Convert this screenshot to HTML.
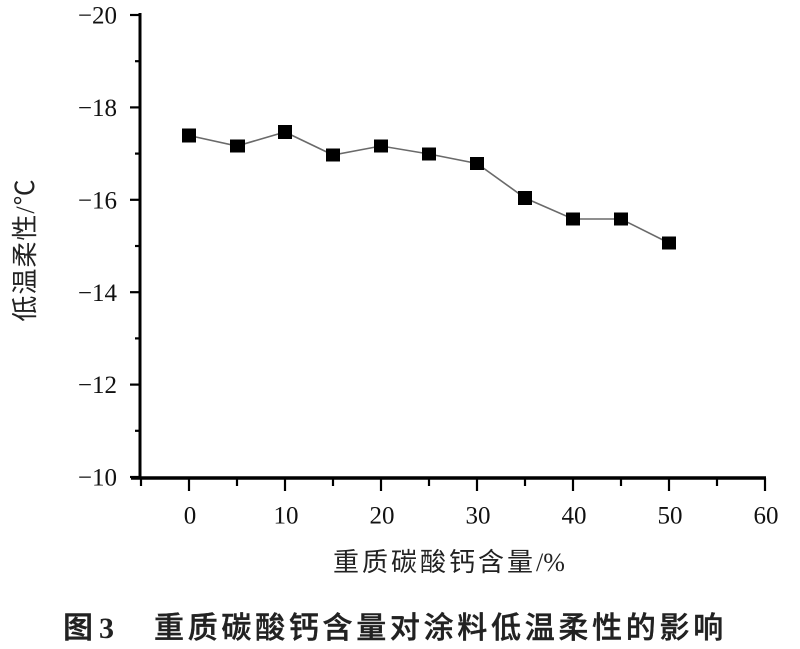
<!DOCTYPE html>
<html>
<head>
<meta charset="utf-8">
<style>
  html,body{margin:0;padding:0;background:#fff;}
  svg{display:block;}
  .tk{font-family:"Liberation Serif","Noto Serif CJK SC",serif;font-size:25px;fill:#111;}
  .cj{font-family:"Liberation Sans","Noto Sans CJK SC",sans-serif;fill:#222;}
</style>
</head>
<body>
<svg width="800" height="649" viewBox="0 0 800 649" xmlns="http://www.w3.org/2000/svg">
  <rect width="800" height="649" fill="#fff"/>
  <!-- axes -->
  <line x1="140" y1="13" x2="140" y2="479" stroke="#000" stroke-width="3"/>
  <line x1="131" y1="478" x2="766" y2="478" stroke="#000" stroke-width="3.5"/>
  <g stroke="#000" stroke-width="2.2">
    <line x1="130" y1="15" x2="140" y2="15"/>
    <line x1="130" y1="107.4" x2="140" y2="107.4"/>
    <line x1="130" y1="199.8" x2="140" y2="199.8"/>
    <line x1="130" y1="292.2" x2="140" y2="292.2"/>
    <line x1="130" y1="384.6" x2="140" y2="384.6"/>
    <line x1="130" y1="477" x2="140" y2="477"/>
    <line x1="135" y1="61.2" x2="140" y2="61.2"/>
    <line x1="135" y1="153.6" x2="140" y2="153.6"/>
    <line x1="135" y1="246" x2="140" y2="246"/>
    <line x1="135" y1="338.4" x2="140" y2="338.4"/>
    <line x1="135" y1="430.8" x2="140" y2="430.8"/>
    <line x1="189" y1="478" x2="189" y2="491"/>
    <line x1="285" y1="478" x2="285" y2="491"/>
    <line x1="381" y1="478" x2="381" y2="491"/>
    <line x1="477" y1="478" x2="477" y2="491"/>
    <line x1="573" y1="478" x2="573" y2="491"/>
    <line x1="669" y1="478" x2="669" y2="491"/>
    <line x1="765" y1="478" x2="765" y2="491"/>
    <line x1="141" y1="478" x2="141" y2="486"/>
    <line x1="237" y1="478" x2="237" y2="486"/>
    <line x1="333" y1="478" x2="333" y2="486"/>
    <line x1="429" y1="478" x2="429" y2="486"/>
    <line x1="525" y1="478" x2="525" y2="486"/>
    <line x1="621" y1="478" x2="621" y2="486"/>
    <line x1="717" y1="478" x2="717" y2="486"/>
  </g>
  <g class="tk" text-anchor="end">
    <text x="117" y="23.5">−20</text>
    <text x="117" y="116">−18</text>
    <text x="117" y="208.5">−16</text>
    <text x="117" y="301">−14</text>
    <text x="117" y="393">−12</text>
    <text x="117" y="485.5">−10</text>
  </g>
  <g class="tk" text-anchor="middle">
    <text x="190" y="523.5">0</text>
    <text x="286" y="523.5">10</text>
    <text x="382" y="523.5">20</text>
    <text x="478" y="523.5">30</text>
    <text x="574" y="523.5">40</text>
    <text x="670" y="523.5">50</text>
    <text x="766" y="523.5">60</text>
  </g>
  <polyline fill="none" stroke="#6a6a6a" stroke-width="1.6"
    points="189,135.5 237,146 285,132 333,155 381,146 429,154 477,163.5 525,198 573,219 621,219 669,243"/>
  <g fill="#000">
    <rect x="182" y="128.5" width="14" height="14"/>
    <rect x="230" y="139.5" width="15" height="13"/>
    <rect x="278" y="125" width="14" height="14"/>
    <rect x="326" y="148.5" width="14" height="13"/>
    <rect x="374" y="139.5" width="14" height="13"/>
    <rect x="422" y="147.5" width="14" height="13"/>
    <rect x="470" y="157" width="14" height="13"/>
    <rect x="518" y="191" width="14" height="14"/>
    <rect x="566" y="212.5" width="14" height="13"/>
    <rect x="614" y="212.5" width="14" height="13"/>
    <rect x="662" y="236.5" width="14" height="13"/>
  </g>
  <text class="cj" x="0" y="0" font-size="26" letter-spacing="1" text-anchor="middle" fill="#111"
        transform="translate(34,250) rotate(-90)">低温柔性<tspan font-family="Liberation Serif, serif">/</tspan><tspan font-family="Noto Sans CJK SC, sans-serif">℃</tspan></text>
  <text class="cj" x="333" y="571" font-size="26" letter-spacing="3" fill="#1a1a1a">重质碳酸钙含量<tspan font-family="Liberation Serif, serif" letter-spacing="0">/%</tspan></text>
  <text class="cj" x="63" y="638" font-size="30" font-weight="bold">图<tspan font-family="Liberation Serif, serif" dx="6">3</tspan></text>
  <text class="cj" x="154" y="638" font-size="30" font-weight="500" letter-spacing="3.7" stroke="#222" stroke-width="0.4">重质碳酸钙含量对涂料低温柔性的影响</text>
</svg>
</body>
</html>
